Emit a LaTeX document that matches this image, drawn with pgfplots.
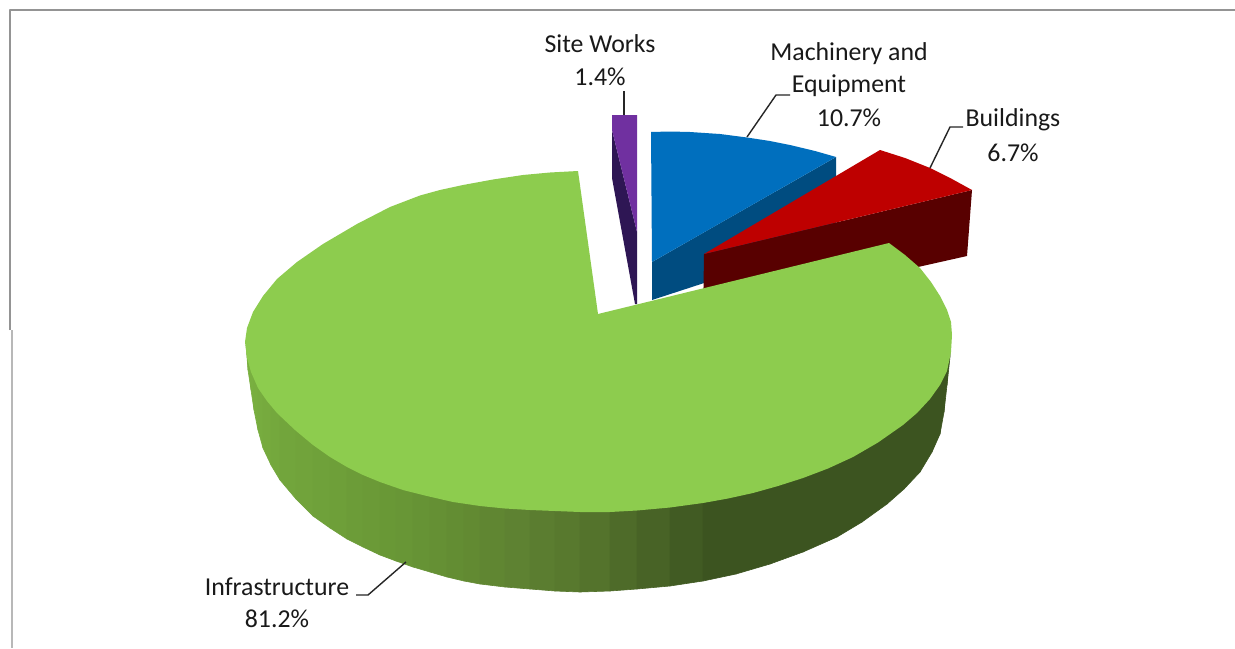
\documentclass[border=0pt]{standalone}
\usepackage{pgfplots}
\pgfplotsset{compat=1.18}
\usepackage{fontspec}
\setmainfont{Carlito}
\definecolor{gtop}{HTML}{8DCC4E}
\tikzset{lab/.style={font=\fontsize{12.9}{15}\selectfont, text=black!90, inner sep=0pt, anchor=center}}
\newcommand\strip[7]{\addplot[fill={rgb,255:red,#1;green,#2;blue,#3}, draw={rgb,255:red,#1;green,#2;blue,#3}, line width=0.3pt] coordinates {(#4,345) (#4,#5) (#6,#7) (#6,345)} --cycle;}
\begin{document}
\begin{tikzpicture}
\begin{axis}[
  anchor=south west, at={(0,0)},
  width=617.5pt, height=324pt, scale only axis,
  xmin=0, xmax=1235, ymin=0, ymax=648, y dir=reverse,
  hide axis, clip=true,
  every axis plot/.append style={line join=round},
]
% page
\addplot[fill=white, draw=none] coordinates {(0,0) (1235,0) (1235,648) (0,648)} --cycle;
% frame
\addplot[draw=black!42, line width=1pt] coordinates {(9.5,330) (9.5,9.5) (1235,9.5)};
\addplot[draw=black!28, line width=1pt] coordinates {(11.5,330) (11.5,648)};

% Infrastructure rim, strip by strip: colour, then the outer edge of the rim
\strip{122}{176}{64}{246}{345}{248}{370}
\strip{122}{176}{64}{248}{370}{251}{390}
\strip{121}{175}{64}{251}{390}{254}{410}
\strip{120}{174}{63}{254}{410}{258}{430}
\strip{119}{172}{63}{258}{430}{263}{448}
\strip{118}{170}{62}{263}{448}{271}{465}
\strip{116}{168}{61}{271}{465}{280}{480}
\strip{114}{165}{60}{280}{480}{296}{499}
\strip{113}{163}{59}{296}{499}{313}{516}
\strip{111}{161}{58}{313}{516}{330}{528}
\strip{110}{159}{57}{330}{528}{347}{539}
\strip{108}{156}{56}{347}{539}{363}{547}
\strip{107}{154}{55}{363}{547}{380}{555}
\strip{105}{152}{54}{380}{555}{396}{561}
\strip{104}{150}{54}{396}{561}{413}{567}
\strip{102}{147}{53}{413}{567}{430}{572}
\strip{101}{144}{52}{430}{572}{447}{577}
\strip{99}{141}{51}{447}{577}{464}{581}
\strip{98}{138}{50}{464}{581}{480}{584}
\strip{96}{134}{50}{480}{584}{505}{587}
\strip{94}{130}{50}{505}{587}{530}{589}
\strip{91}{125}{48}{530}{589}{555}{591}
\strip{88}{121}{46}{555}{591}{580}{592}
\strip{84}{115}{44}{580}{592}{610}{591}
\strip{78}{107}{41}{610}{591}{637}{589}
\strip{72}{99}{38}{637}{589}{670}{586}
\strip{65}{91}{35}{670}{586}{703}{581}
\strip{60}{84}{32}{703}{581}{736}{574}
\strip{60}{84}{32}{736}{574}{770}{564}
\strip{60}{84}{32}{770}{564}{803}{552}
\strip{60}{84}{32}{803}{552}{837}{537}
\strip{60}{84}{32}{837}{537}{862}{522}
\strip{60}{84}{32}{862}{522}{887}{504}
\strip{60}{84}{32}{887}{504}{904}{489}
\strip{60}{84}{32}{904}{489}{920}{472}
\strip{60}{84}{32}{920}{472}{932}{452}
\strip{60}{84}{32}{932}{452}{940}{434}
\strip{60}{84}{32}{940}{434}{944}{412}
\strip{60}{84}{32}{944}{412}{947}{385}
\strip{60}{84}{32}{947}{385}{950}{357}

% Machinery and Equipment
\addplot[fill={rgb,255:red,0;green,76;blue,128}, draw=none] coordinates {(652,262) (836,157) (836,178) (836,240) (652,300)} --cycle;
\addplot[fill={rgb,255:red,0;green,111;blue,190}, draw=none] coordinates {(651,132) (670,131.5) (690,132) (720,134) (747,137.5) (770,141) (790,145) (815,151) (836,157) (652,262)} --cycle;

% Buildings
\addplot[fill={rgb,255:red,88;green,0;blue,0}, draw=none] coordinates {(704,254) (972,190) (967,256) (918,267) (703,320)} --cycle;
\addplot[fill={rgb,255:red,190;green,0;blue,0}, draw=none] coordinates {(704,254) (880,150) (905,158) (930,168) (952,179) (972,190)} --cycle;

% Site Works
\addplot[fill={rgb,255:red,46;green,22;blue,84}, draw=none] coordinates {(612,130) (637,232) (637,304) (635,304) (612,178)} --cycle;
\addplot[fill={rgb,255:red,112;green,48;blue,160}, draw=none] coordinates {(612,115) (637,115) (637,232) (612,130)} --cycle;

% Infrastructure top
\addplot[fill=gtop, draw=none] coordinates {
 (598,314) (578,171) (550,172.5) (523,175) (493,179.5) (463,185) (440,190) (420,195.5) (390,207)
 (357,224) (323,244) (297,262) (277,279) (263,296) (253,312) (247,328) (245,342) (247,358) (251,372)
 (258,388) (267,401) (277,413) (295,430) (313,445) (330,457) (347,467) (363,475) (380,482)
 (403,490) (427,496) (453,502) (480,506) (505,508.5) (530,510) (555,511) (580,512) (610,512)
 (637,510.5) (670,507.5) (703,503) (728,498.5) (753,493) (778,486) (803,478) (828,468.5)
 (853,457) (878,442.5) (903,425) (917,413) (930,399) (940,385) (947,371) (951,352) (952,335)
 (951,322) (947,310) (940,296) (931,282) (920,268) (905,255) (889,243)
} --cycle;

% leaders
\addplot[draw=black!85, line width=0.7pt] coordinates {(624,91) (624,115)};
\addplot[draw=black!85, line width=0.7pt] coordinates {(790,95) (776,95) (747,137)};
\addplot[draw=black!85, line width=0.7pt] coordinates {(963,127) (950,127) (930,168)};
\addplot[draw=black!85, line width=0.7pt] coordinates {(356,595) (368,595) (406,562)};

% labels
\node[lab] at (axis cs:600,44) {Site Works};
\node[lab] at (axis cs:600,77) {1.4\%};
\node[lab] at (axis cs:849,54) {Machinery and};
\node[lab] at (axis cs:849,86) {Equipment};
\node[lab] at (axis cs:849,118) {10.7\%};
\node[lab] at (axis cs:1013,120) {Buildings};
\node[lab] at (axis cs:1013,153) {6.7\%};
\node[lab] at (axis cs:277,587) {Infrastructure};
\node[lab] at (axis cs:277,619) {81.2\%};
\end{axis}
\end{tikzpicture}
\end{document}
